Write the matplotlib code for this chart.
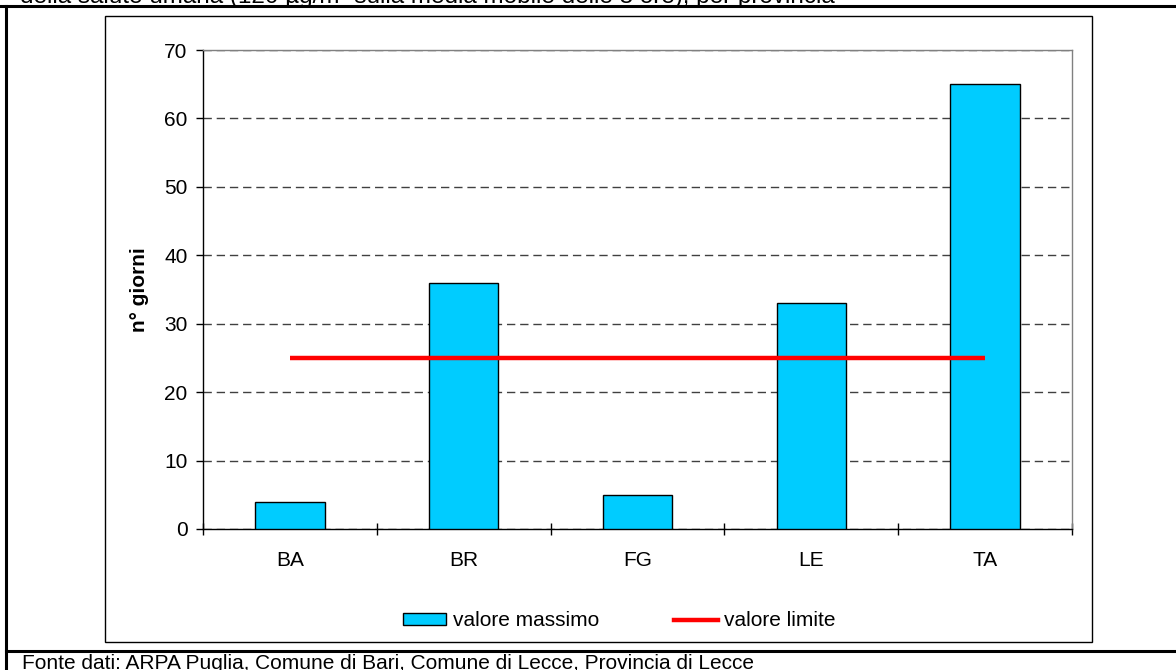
import matplotlib
matplotlib.use('Agg')
import matplotlib.pyplot as plt
from matplotlib.lines import Line2D
from matplotlib.patches import Rectangle, Patch
import numpy as np

plt.rcParams['font.family'] = ['Liberation Sans', 'DejaVu Sans']

# Giorni di superamento per provincia
province = ['BA', 'BR', 'FG', 'LE', 'TA']
valore_massimo = [4, 36, 5, 33, 65]
valore_limite = 25

W, H = 1176, 670
fig = plt.figure(figsize=(W / 100, H / 100), dpi=100)
FS = 15


def fx(px):
    return px / W


def fy(py):
    return 1 - py / H


# cornice esterna della tabella
fig.add_artist(Line2D([fx(6), fx(6)], [fy(6), fy(670)], color='black', lw=2.2))
fig.add_artist(Line2D([0, 1], [fy(6), fy(6)], color='black', lw=2.2))
fig.add_artist(Line2D([fx(6), 1], [fy(651), fy(651)], color='black', lw=2.2))

# riquadro del grafico
fig.add_artist(Rectangle((fx(105), fy(642)), fx(1092) - fx(105), fy(16) - fy(642),
                         fill=False, edgecolor='black', lw=1.0))

fig.text(fx(20), fy(3.5), 'della salute umana (120 \u00b5g/m\u00b3 sulla media mobile delle 8 ore), per provincia',
         fontsize=17.5, va='baseline', ha='left')
fig.text(fx(22), fy(669), 'Fonte dati: ARPA Puglia, Comune di Bari, Comune di Lecce, Provincia di Lecce',
         fontsize=FS, va='baseline', ha='left')

ax = fig.add_axes([fx(203), fy(529), fx(1072) - fx(203), fy(50) - fy(529)])
x = np.arange(len(province))
ax.bar(x, valore_massimo, width=0.4, color='#00CCFF', edgecolor='black', linewidth=1.0,
       zorder=3, label='valore massimo')
ax.plot([x[0], x[-1]], [valore_limite, valore_limite], color='#FF0000', lw=3.2,
        solid_capstyle='butt', zorder=4, label='valore limite')

ax.set_xlim(-0.5, len(province) - 0.5)
ax.set_ylim(0, 70)
ax.set_yticks(range(0, 71, 10))
ax.set_xticks(x)
ax.set_xticklabels(province)
ax.set_xticks(np.arange(-0.5, len(province)), minor=True)
ax.tick_params(axis='x', which='major', length=0, pad=16, labelsize=FS)
ax.tick_params(axis='x', which='minor', length=9, direction='inout', width=1)
ax.tick_params(axis='y', length=5, direction='out', width=1, pad=6, labelsize=FS)

for s in ['left', 'bottom']:
    ax.spines[s].set_linewidth(1.0)
for s in ['top', 'right']:
    ax.spines[s].set_color('#808080')
    ax.spines[s].set_linewidth(1.0)

ax.yaxis.grid(True, color='#404040', linewidth=1.0, dashes=(6, 3.5), zorder=0)
ax.set_axisbelow(True)
ax.set_ylabel('n\u00b0 giorni', fontsize=FS, fontweight='bold')
ax.yaxis.set_label_coords((149 - 203) / 869, 0.5)

handles = [Patch(facecolor='#00CCFF', edgecolor='black', linewidth=1.0),
           Line2D([], [], color='#FF0000', lw=3.2)]
fig.legend(handles, ['valore massimo', 'valore limite'], loc='center',
           bbox_to_anchor=(fx(619), fy(621)), ncol=2, frameon=False, fontsize=FS,
           handlelength=2.1, handleheight=0.55, handletextpad=0.3, columnspacing=3.6)

fig.savefig('out.png', dpi=100)
